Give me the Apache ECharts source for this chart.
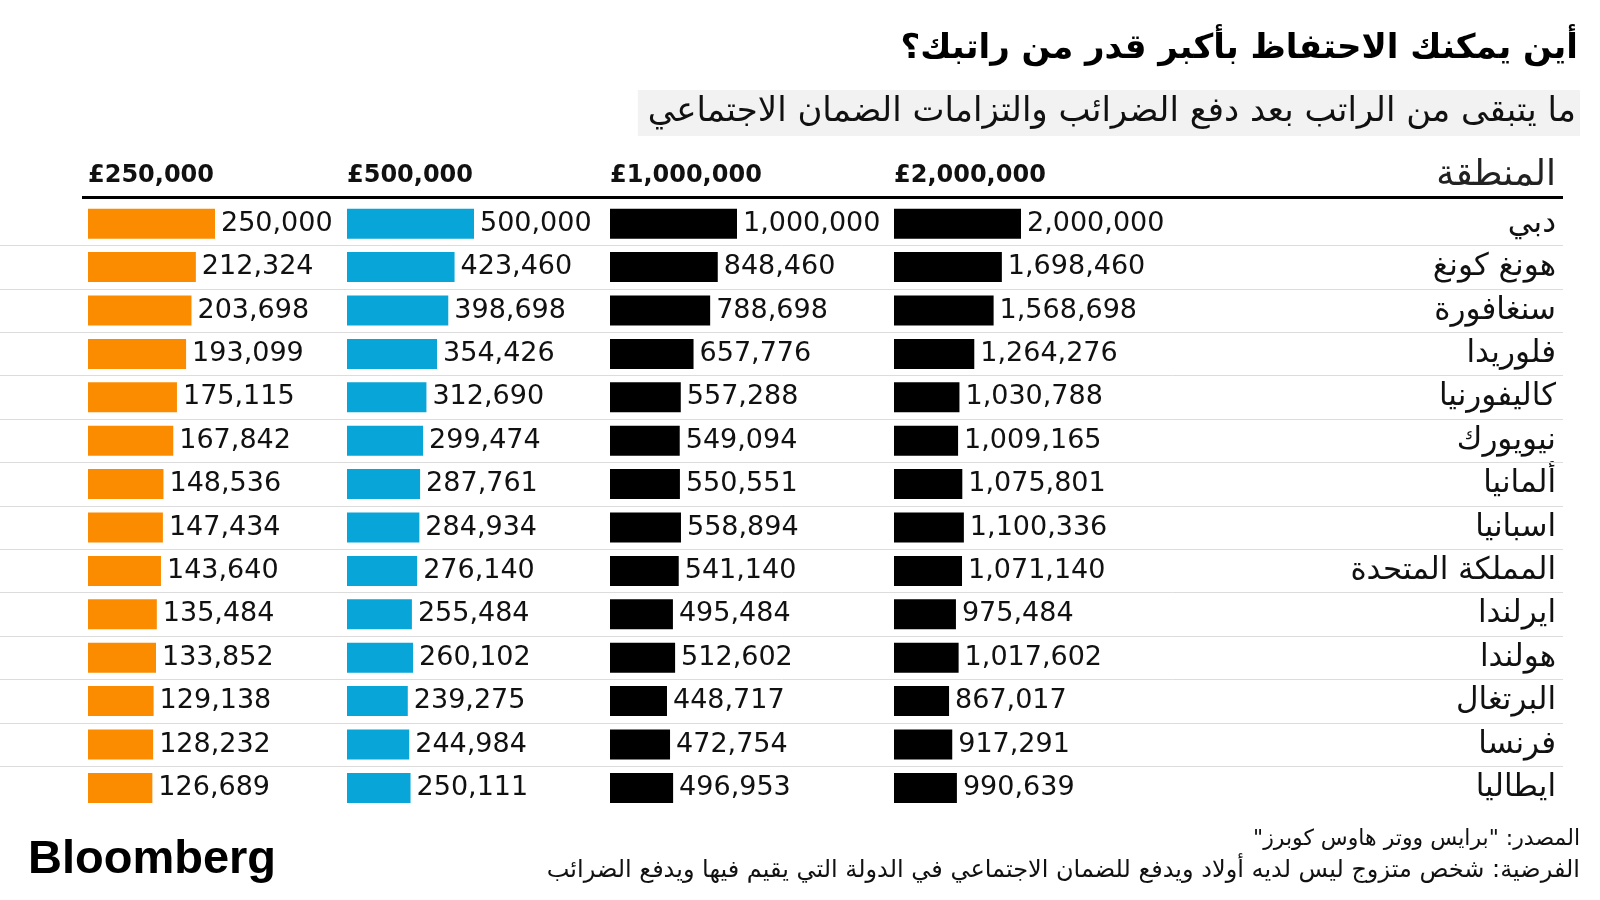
<!DOCTYPE html>
<html>
<head>
<meta charset="utf-8">
<script src="https://cdn.jsdelivr.net/npm/echarts@6.0.0/dist/echarts.min.js"></script>
<style>
html,body{margin:0;padding:0;background:#fff;}
#chart{width:1600px;height:900px;}
</style>
</head>
<body>
<div id="chart"></div>
<script>
// ---- data ----
const countries = ['دبي','هونغ كونغ','سنغافورة','فلوريدا','كاليفورنيا','نيويورك','ألمانيا','اسبانيا','المملكة المتحدة','ايرلندا','هولندا','البرتغال','فرنسا','ايطاليا'];
const headerLabels = ['£250,000','£500,000','£1,000,000','£2,000,000'];
const headerValues = [250000, 500000, 1000000, 2000000];
const salary250k = [250000,212324,203698,193099,175115,167842,148536,147434,143640,135484,133852,129138,128232,126689];
const salary500k = [500000,423460,398698,354426,312690,299474,287761,284934,276140,255484,260102,239275,244984,250111];
const salary1m = [1000000,848460,788698,657776,557288,549094,550551,558894,541140,495484,512602,448717,472754,496953];
const salary2m = [2000000,1698460,1568698,1264276,1030788,1009165,1075801,1100336,1071140,975484,1017602,867017,917291,990639];
const regionHeader = 'المنطقة';
const titleText = 'أين يمكنك الاحتفاظ بأكبر قدر من راتبك؟';
const subtitleText = 'ما يتبقى من الراتب بعد دفع الضرائب والتزامات الضمان الاجتماعي';
const sourceText = 'المصدر: "برايس ووتر هاوس كوبرز"\u200F';
const noteText = 'الفرضية: شخص متزوج ليس لديه أولاد ويدفع للضمان الاجتماعي في الدولة التي يقيم فيها ويدفع الضرائب';

// ---- layout ----
const seriesData = [salary250k, salary500k, salary1m, salary2m];
const colors = ['#fb8c00', '#08a5d8', '#000000', '#000000'];
const colLefts = [88, 347, 610, 894];
const colWidth = 127;
const gridTop = 202;
const rowH = 43.4;
const gridHeight = rowH * countries.length;
const FONT = 'DejaVu Sans';

const grids = [], xAxes = [], yAxes = [], series = [];
seriesData.forEach((vals, i) => {
  grids.push({left: colLefts[i], top: gridTop, width: colWidth, height: gridHeight});
  xAxes.push({type: 'value', gridIndex: i, min: 0, max: headerValues[i], show: false});
  yAxes.push({type: 'category', gridIndex: i, data: countries, inverse: true, show: false});
  series.push({
    type: 'bar', xAxisIndex: i, yAxisIndex: i, data: vals, barWidth: 30,
    itemStyle: {color: colors[i]}, silent: true,
    label: {show: true, position: 'right', distance: 6, fontFamily: FONT, fontSize: 27, color: '#111',
      formatter: p => p.value.toLocaleString('en-US')}
  });
});
// country label grid (index 4)
grids.push({left: 1560, top: gridTop, width: 10, height: gridHeight});
xAxes.push({type: 'value', gridIndex: 4, show: false});
yAxes.push({type: 'category', gridIndex: 4, data: countries, inverse: true,
  axisLine: {show: false}, axisTick: {show: false},
  axisLabel: {margin: 4, fontFamily: FONT, fontSize: 31, color: '#111', formatter: v => v + '\u200F'}});
// separator grid (index 5)
grids.push({left: 0, top: gridTop, width: 1563, height: gridHeight});
xAxes.push({type: 'value', gridIndex: 5, min: 0, max: 1, show: false});
yAxes.push({type: 'value', gridIndex: 5, min: 0, max: countries.length, inverse: true, show: false});
series.push({
  type: 'line', xAxisIndex: 5, yAxisIndex: 5, data: [[0, 0]], showSymbol: false, silent: true,
  lineStyle: {width: 0},
  markLine: {silent: true, symbol: ['none', 'none'], label: {show: false},
    lineStyle: {color: '#dcdcdc', type: 'solid', width: 1},
    data: countries.slice(1).map((c, k) => ({yAxis: k + 1}))}
});

const titles = [
  {text: titleText, right: 22, top: 32, padding: 0,
    textStyle: {fontFamily: FONT, fontSize: 34, fontWeight: 'bold', color: '#000'}},
  {text: subtitleText, right: 20, top: 90, padding: [5, 4, 7, 10], backgroundColor: '#f2f2f2',
    textStyle: {fontFamily: FONT, fontSize: 34, fontWeight: 'normal', color: '#111'}},
  {text: regionHeader, right: 44, top: 158, padding: 0,
    textStyle: {fontFamily: FONT, fontSize: 36, fontWeight: 'normal', color: '#222'}},
  {text: 'Bloomberg', left: 28, top: 837, padding: 0,
    textStyle: {fontFamily: 'Liberation Sans', fontSize: 47, fontWeight: 'bold', color: '#000'}},
  {text: sourceText, right: 20, top: 828, padding: 0,
    textStyle: {fontFamily: FONT, fontSize: 22, fontWeight: 'normal', color: '#111'}},
  {text: noteText, right: 20, top: 859, padding: 0,
    textStyle: {fontFamily: FONT, fontSize: 24, fontWeight: 'normal', color: '#111'}}
];
headerLabels.forEach((h, i) => {
  titles.push({text: h, left: colLefts[i], top: 164, padding: 0,
    textStyle: {fontFamily: FONT, fontSize: 24, fontWeight: 'bold', color: '#111'}});
});

const chart = echarts.init(document.getElementById('chart'), null, {renderer: 'canvas'});
chart.setOption({
  backgroundColor: '#ffffff',
  animation: false,
  title: titles,
  grid: grids,
  xAxis: xAxes,
  yAxis: yAxes,
  series: series,
  graphic: [{type: 'rect', left: 82, top: 196, shape: {width: 1481, height: 3}, style: {fill: '#000'}, silent: true}]
});
</script>
</body>
</html>
